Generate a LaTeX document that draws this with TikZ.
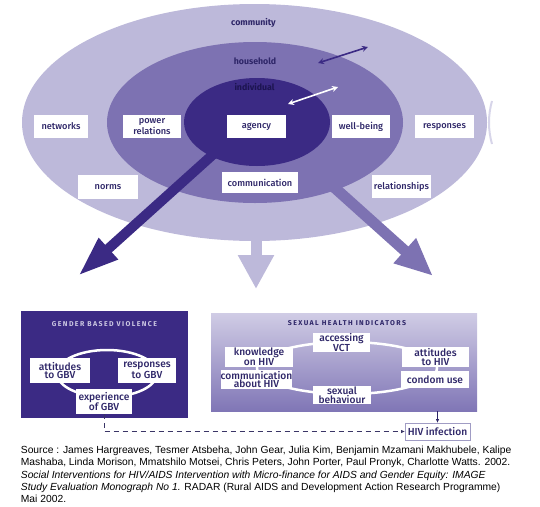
\documentclass[tikz,border=0pt]{standalone}
\usepackage{fontspec}
\setmainfont{Liberation Sans}
\newfontfamily\figfont{Fira Sans}
\newfontfamily\figmed{Fira Sans Medium}
\usetikzlibrary{arrows.meta,shapes.geometric}
\definecolor{commfill}{HTML}{BDB9DA}
\definecolor{housefill}{HTML}{7D72B2}
\definecolor{indivfill}{HTML}{3B2A84}
\definecolor{ink}{HTML}{2E2668}
\definecolor{deepink}{HTML}{1C1450}
\definecolor{shitop}{HTML}{D0CCE5}
\definecolor{shimid}{HTML}{BEB8DA}
\definecolor{shibot}{HTML}{8076B6}
\definecolor{gbvtitle}{HTML}{CBC7E2}
\definecolor{hivline}{HTML}{A09CC4}
\definecolor{dashink}{HTML}{3A3566}
\begin{document}
\begin{tikzpicture}[x=1pt,y=-1pt,
  ringnode/.style={ellipse,inner sep=0pt,outer sep=0pt},
  wbox/.style={fill=white,text=ink,inner sep=0pt,outer sep=0pt,align=center,
    font=\figmed\fontsize{9.2}{8.4}\selectfont},
  lbox/.style={wbox,font=\figmed\fontsize{10.2}{8.9}\selectfont},
  levelname/.style={inner sep=0pt,font=\figfont\bfseries\fontsize{8.8}{9}\selectfont},
  boxtitle/.style={inner sep=0pt,font=\figfont\bfseries\fontsize{7}{8}\selectfont\addfontfeature{LetterSpace=20}},
  bigarrow/.style={line width=10pt},
  twoway/.style={line width=1.6pt,{Stealth[length=6pt,width=6pt]}-{Stealth[length=6pt,width=6pt]}},
  smallarrow/.style={line width=0.8pt,-{Latex[length=4pt,width=3.5pt]}}]

  \useasboundingbox (0,0) rectangle (540,506);

  \node[ringnode,fill=commfill,minimum width=465pt,minimum height=237pt] (community) at (254.5,122.5) {};
  \node[ringnode,fill=housefill,minimum width=296pt,minimum height=161pt] (household) at (255,122.5) {};
  \node[ringnode,fill=indivfill,minimum width=146pt,minimum height=88pt] (individual) at (257,122) {};
  \draw[commfill!60,line width=2pt] (492,101) .. controls (488,115) and (488,130) .. (492,144);

  \node[levelname,text=ink] (commname) at (253.5,22.7) {community};
  \node[levelname,text=ink] (housename) at (255,61) {household};
  \node[levelname,text=deepink] (indivname) at (254.5,87) {individual};

  \coordinate (hh-a) at (318,63);
  \coordinate (hh-b) at (368,47);
  \coordinate (in-a) at (288,104);
  \coordinate (in-b) at (338,87);
  \draw[twoway,indivfill] (hh-a) -- (hh-b);
  \draw[twoway,white] (in-a) -- (in-b);

  \coordinate (gbv-from) at (218,150);
  \coordinate (gbv-tip) at (78,276);
  \coordinate (mid-from) at (256,232);
  \coordinate (mid-tip) at (256,289);
  \coordinate (shi-from) at (326,180);
  \coordinate (shi-tip) at (433,276);
  \draw[bigarrow,indivfill,-{Triangle[width=26pt,length=41pt]}] (gbv-from) -- (gbv-tip);
  \draw[bigarrow,commfill,line width=11pt,-{Triangle[width=34pt,length=34pt]}] (mid-from) -- (mid-tip);
  \draw[bigarrow,housefill,line width=11pt,-{Triangle[width=31pt,length=38pt]}] (shi-from) -- (shi-tip);

  \node[wbox,minimum width=54pt,minimum height=23pt] (networks) at (61,126.5) {networks};
  \node[wbox,minimum width=58pt,minimum height=23pt] (power) at (152,126.5) {power\\relations};
  \node[wbox,minimum width=59pt,minimum height=23pt] (agency) at (256.5,126.5) {agency};
  \node[wbox,minimum width=58pt,minimum height=23pt] (wellbeing) at (361,126.5) {well-being};
  \node[wbox,minimum width=59pt,minimum height=23pt] (responses) at (444.5,126.5) {responses};
  \node[wbox,minimum width=60pt,minimum height=24pt] (norms) at (108,187) {norms};
  \node[wbox,minimum width=76pt,minimum height=21pt] (communication) at (260,182.5) {communication};
  \node[wbox,minimum width=59pt,minimum height=23pt] (relationships) at (401.5,186.5) {relationships};

  \node[fill=indivfill,inner sep=0pt,minimum width=167pt,minimum height=107pt] (gbv) at (104.5,364.5) {};
  \node[boxtitle,text=gbvtitle] (gbvname) at (104.5,324) {GENDER BASED VIOLENCE};
  \node[ringnode,draw=white,line width=2.5pt,minimum width=100pt,minimum height=47pt] (gbvloop) at (107,373.5) {};
  \node[lbox,minimum width=60pt,minimum height=25pt] (attgbv) at (60,370.5) {attitudes\\to GBV};
  \node[lbox,minimum width=58pt,minimum height=25pt] (respgbv) at (147,370.5) {responses\\to GBV};
  \node[lbox,minimum width=56pt,minimum height=25pt] (experience) at (104,401.5) {experience\\of GBV};

  \node[top color=shitop,middle color=shimid,bottom color=shibot,inner sep=0pt,minimum width=266pt,minimum height=98pt] (shi) at (344,362) {};
  \node[boxtitle,text=ink] (shiname) at (347,323) {SEXUAL HEALTH INDICATORS};
  \node[ringnode,draw=white,line width=2.5pt,minimum width=180pt,minimum height=52pt] (shiloop) at (347,368) {};
  \node[lbox,minimum width=57pt,minimum height=19pt] (vct) at (341.5,342.5) {accessing\\VCT};
  \node[lbox,minimum width=68pt,minimum height=20pt] (knowledge) at (259,357) {knowledge\\on HIV};
  \node[lbox,minimum width=71pt,minimum height=19pt] (commhiv) at (256.5,379.5) {communication\\about HIV};
  \node[lbox,minimum width=67pt,minimum height=20pt] (atthiv) at (435.5,357) {attitudes\\to HIV};
  \node[lbox,minimum width=68pt,minimum height=17pt] (condom) at (435,379.5) {condom use};
  \node[lbox,minimum width=58pt,minimum height=18pt] (sexual) at (342,395) {sexual\\behaviour};

  \node[lbox,draw=hivline,line width=0.8pt,minimum width=65pt,minimum height=17pt] (hiv) at (437.5,431.5) {HIV infection};
  \draw[smallarrow,ink] (hiv.north |- shi.south) -- (hiv.north);
  \draw[smallarrow,dashink,dash pattern=on 5pt off 4pt] (experience.south) |- (hiv.west);

  \node[anchor=north west,align=left,inner sep=0pt,font=\fontsize{10.3}{12.3}\selectfont] (source) at (20.7,446) {Source : James Hargreaves, Tesmer Atsbeha, John Gear, Julia Kim, Benjamin Mzamani Makhubele, Kalipe\\
    Mashaba, Linda Morison, Mmatshilo Motsei, Chris Peters, John Porter, Paul Pronyk, Charlotte Watts. 2002.\\
    \textit{Social Interventions for HIV/AIDS Intervention with Micro-finance for AIDS and Gender Equity: IMAGE}\\
    \textit{Study Evaluation Monograph No 1.} RADAR (Rural AIDS and Development Action Research Programme)\\
    Mai 2002.};

\end{tikzpicture}
\end{document}
